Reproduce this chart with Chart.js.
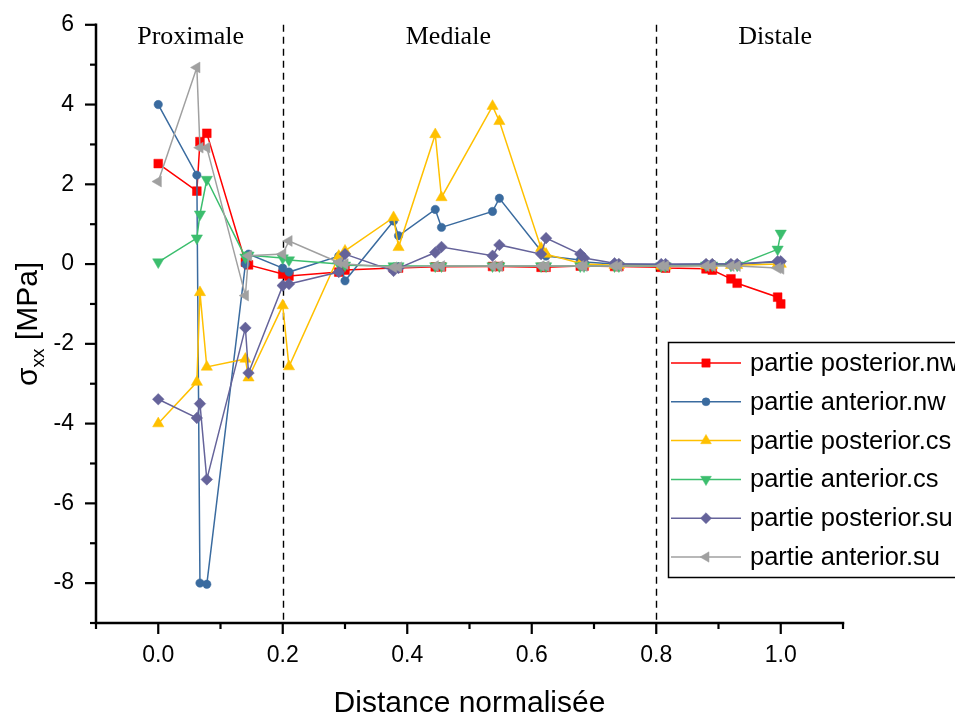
<!DOCTYPE html>
<html><head><meta charset="utf-8">
<script src="https://cdn.jsdelivr.net/npm/chart.js@4/dist/chart.umd.min.js"></script>
<style>html,body{margin:0;padding:0;background:#fff;}#wrap{width:955px;height:715px;position:relative;}</style>
</head><body><div id="wrap"><canvas id="c" width="955" height="715"></canvas></div>
<script>
// ---- data ----
const distances   = [0, 0.062, 0.067, 0.078, 0.140, 0.145, 0.200, 0.210, 0.290, 0.300, 0.378, 0.386, 0.445, 0.455, 0.537, 0.548, 0.615, 0.623, 0.678, 0.684, 0.733, 0.740, 0.808, 0.815, 0.880, 0.890, 0.920, 0.930, 0.995, 1.000];
const posteriorNw = [2.52, 1.83, 3.07, 3.28, 0.05, -0.02, -0.25, -0.30, -0.20, -0.15, -0.10, -0.10, -0.07, -0.07, -0.06, -0.06, -0.08, -0.08, -0.05, -0.05, -0.06, -0.06, -0.08, -0.10, -0.12, -0.15, -0.37, -0.48, -0.83, -1.00];
const anteriorNw  = [4.00, 2.23, -8.00, -8.03, 0.00, 0.25, -0.10, -0.20, 0.20, -0.42, 1.08, 0.71, 1.37, 0.92, 1.32, 1.65, 0.33, 0.20, 0.10, 0.05, 0.00, 0.00, -0.02, -0.02, 0.00, 0.00, 0.00, 0.00, 0.05, 0.05];
const posteriorCs = [-4.00, -2.96, -0.71, -2.58, -2.38, -2.85, -1.04, -2.57, 0.20, 0.33, 1.17, 0.42, 3.25, 1.67, 3.96, 3.58, 0.40, 0.25, 0.02, 0.00, -0.03, -0.03, -0.05, -0.05, -0.03, -0.03, -0.03, -0.03, 0.00, 0.00];
const anteriorCs  = [0.05, 0.65, 1.25, 2.12, 0.17, 0.22, 0.15, 0.10, 0.00, -0.03, -0.05, -0.05, -0.05, -0.05, -0.05, -0.05, -0.05, -0.05, -0.05, -0.05, -0.05, -0.05, -0.05, -0.05, -0.03, -0.03, -0.03, -0.03, 0.37, 0.77];
const posteriorSu = [-3.39, -3.86, -3.50, -5.40, -1.60, -2.73, -0.54, -0.50, -0.20, 0.25, -0.17, -0.10, 0.29, 0.43, 0.21, 0.48, 0.25, 0.65, 0.25, 0.15, 0.02, 0.00, 0.00, 0.00, 0.00, 0.00, 0.00, 0.00, 0.07, 0.07];
const anteriorSu  = [2.07, 4.93, 2.92, 2.92, -0.79, 0.21, 0.25, 0.58, 0.04, 0.00, -0.08, -0.08, -0.05, -0.05, -0.05, -0.05, -0.05, -0.05, -0.05, -0.05, -0.05, -0.05, -0.05, -0.05, -0.05, -0.05, -0.05, -0.05, -0.10, -0.12];

const seriesLabels = ['partie posterior.nw','partie anterior.nw','partie posterior.cs','partie anterior.cs','partie posterior.su','partie anterior.su'];
const seriesValues = [posteriorNw, anteriorNw, posteriorCs, anteriorCs, posteriorSu, anteriorSu];

const xMajorTicks = [0.0, 0.2, 0.4, 0.6, 0.8, 1.0];
const yMajorTicks = [-8, -6, -4, -2, 0, 2, 4, 6];
const regionLabels  = ['Proximale', 'Mediale', 'Distale'];
const regionCenters = [0.052, 0.466, 0.991];
const regionBounds  = [0.2, 0.8];
const xTitle = 'Distance normalisée';
const yTitleMain = 'σ', yTitleSub = 'xx', yTitleRest = ' [MPa]';

// ---- styles ----
const colors  = ['#FF0000', '#3A6B9F', '#FFC000', '#3CBE6E', '#65639A', '#A0A0A0'];
const pStyles = ['rect', 'circle', 'triangle', 'triangle', 'rectRot', 'triangle'];
const pRot    = [0, 0, 0, 180, 0, 270];
const pRad    = [6.2, 4.2, 6.5, 6.5, 5.8, 6.3];

const datasets = seriesValues.map((vals, i) => ({
  label: seriesLabels[i],
  data: distances.map((d, k) => ({x: d, y: vals[k]})),
  borderColor: colors[i],
  backgroundColor: colors[i],
  borderWidth: 1.5,
  pointStyle: pStyles[i],
  rotation: pRot[i],
  pointRadius: pRad[i],
  pointBorderWidth: 0.5,
  pointBorderColor: colors[i],
  pointBackgroundColor: colors[i],
  tension: 0,
  order: 10 - i
}));

const isMajor = (arr, v) => arr.some(t => Math.abs(t - v) < 1e-6);

function drawMarker(ctx, i, x, y) {
  ctx.fillStyle = colors[i]; ctx.strokeStyle = colors[i]; ctx.lineWidth = 0.5;
  Chart.helpers.drawPoint(ctx, {pointStyle: pStyles[i], rotation: pRot[i], radius: pRad[i] * 0.95, borderWidth: 0.5}, x, y);
}

const decor = {
  id: 'decor',
  beforeDatasetsDraw(chart) {
    const {ctx, chartArea: a, scales: {x}} = chart;
    ctx.save();
    ctx.strokeStyle = '#000'; ctx.lineWidth = 1.4; ctx.setLineDash([7, 5]);
    regionBounds.forEach(b => {
      const px = Math.round(x.getPixelForValue(b)) + 0.5;
      ctx.beginPath(); ctx.moveTo(px, a.top); ctx.lineTo(px, a.bottom); ctx.stroke();
    });
    ctx.restore();
  },
  afterDraw(chart) {
    const {ctx, chartArea: a, scales: {x, y}} = chart;
    ctx.save();
    // axes
    ctx.strokeStyle = '#000'; ctx.lineWidth = 2.5; ctx.lineCap = 'square';
    ctx.beginPath(); ctx.moveTo(a.left, a.top); ctx.lineTo(a.left, a.bottom); ctx.lineTo(a.right, a.bottom); ctx.stroke();
    ctx.lineCap = 'butt'; ctx.lineWidth = 2.2;
    x.ticks.forEach(t => {
      const px = x.getPixelForValue(t.value);
      const len = isMajor(xMajorTicks, t.value) ? 11 : 6;
      ctx.beginPath(); ctx.moveTo(px, a.bottom); ctx.lineTo(px, a.bottom + len); ctx.stroke();
    });
    y.ticks.forEach(t => {
      const py = y.getPixelForValue(t.value);
      const len = isMajor(yMajorTicks, t.value) ? 11 : 6;
      ctx.beginPath(); ctx.moveTo(a.left, py); ctx.lineTo(a.left - len, py); ctx.stroke();
    });
    // region labels
    ctx.fillStyle = '#000';
    ctx.font = '26px "Liberation Serif", "Times New Roman", serif';
    ctx.textAlign = 'center'; ctx.textBaseline = 'alphabetic';
    regionLabels.forEach((t, i) => ctx.fillText(t, x.getPixelForValue(regionCenters[i]), a.top + 19));
    // x title
    ctx.font = '30px "Liberation Sans", Arial, sans-serif';
    ctx.fillText(xTitle, (a.left + a.right) / 2, 712);
    // y title with subscript
    ctx.save();
    ctx.translate(37, (a.top + a.bottom) / 2);
    ctx.rotate(-Math.PI / 2);
    const fMain = '30px "Liberation Sans", Arial, sans-serif';
    const fSub = '19px "Liberation Sans", Arial, sans-serif';
    ctx.font = fMain; const w1 = ctx.measureText(yTitleMain).width; const w3 = ctx.measureText(yTitleRest).width;
    ctx.font = fSub; const w2 = ctx.measureText(yTitleSub).width;
    let sx = -(w1 + w2 + w3) / 2;
    ctx.textAlign = 'left';
    ctx.font = fMain; ctx.fillText(yTitleMain, sx, 0); sx += w1;
    ctx.font = fSub; ctx.fillText(yTitleSub, sx, 7); sx += w2;
    ctx.font = fMain; ctx.fillText(yTitleRest, sx, 0);
    ctx.restore();
    // legend
    const lx = 668, ly = 342, lh = 235;
    ctx.fillStyle = '#fff'; ctx.fillRect(lx, ly, 300, lh);
    ctx.strokeStyle = '#000'; ctx.lineWidth = 1.5;
    ctx.strokeRect(lx + 0.5, ly + 0.5, 300, lh);
    ctx.font = '25.5px "Liberation Sans", Arial, sans-serif';
    ctx.textAlign = 'left'; ctx.textBaseline = 'middle';
    seriesLabels.forEach((lab, i) => {
      const ry = 363 + i * 38.8;
      ctx.strokeStyle = colors[i]; ctx.lineWidth = 1.5;
      ctx.beginPath(); ctx.moveTo(671, ry); ctx.lineTo(741, ry); ctx.stroke();
      drawMarker(ctx, i, 706, ry);
      ctx.fillStyle = '#000';
      ctx.fillText(lab, 750, ry + 1);
    });
    ctx.restore();
  }
};

const tickFont = {family: '"Liberation Sans", Arial, sans-serif', size: 23};

new Chart(document.getElementById('c'), {
  type: 'line',
  data: {datasets},
  plugins: [decor],
  options: {
    responsive: false,
    animation: false,
    events: [],
    layout: {padding: {left: 0, right: 112, top: 23, bottom: 0}},
    plugins: {legend: {display: false}, tooltip: {enabled: false}, title: {display: false}},
    scales: {
      x: {
        type: 'linear', min: -0.1, max: 1.1,
        border: {display: false},
        grid: {display: true, drawOnChartArea: false, drawTicks: true, tickLength: 11, color: 'rgba(0,0,0,0)'},
        ticks: {
          stepSize: 0.1, color: '#000', font: tickFont, padding: 8, maxRotation: 0, autoSkip: false,
          callback: v => isMajor(xMajorTicks, v) ? v.toFixed(1) : ''
        },
        afterFit: s => { s.height = 92; }
      },
      y: {
        type: 'linear', min: -9, max: 6,
        border: {display: false},
        grid: {display: true, drawOnChartArea: false, drawTicks: true, tickLength: 11, color: 'rgba(0,0,0,0)'},
        ticks: {
          stepSize: 1, color: '#000', font: tickFont, padding: 11, autoSkip: false,
          callback: v => isMajor(yMajorTicks, v) ? String(Math.round(v)) : ''
        },
        afterFit: s => { s.width = 96; }
      }
    }
  }
});
</script>
</body></html>
